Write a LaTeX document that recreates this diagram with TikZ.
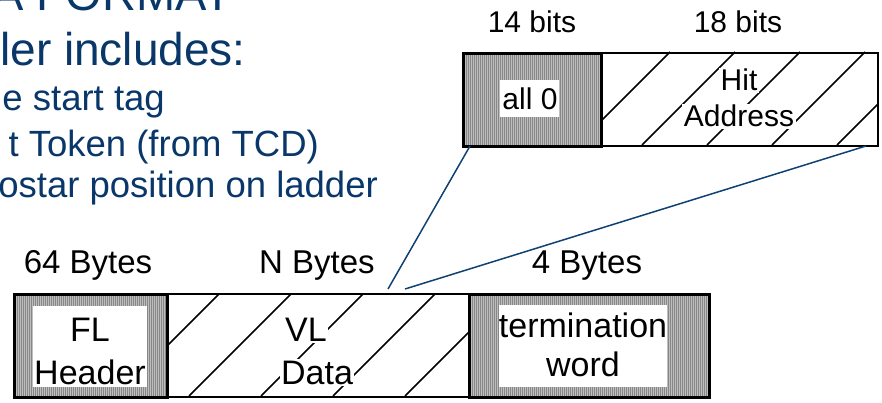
\documentclass[tikz,border=0pt]{standalone}
\usepackage{fontspec}
\setmainfont{Liberation Sans}
\definecolor{navy}{RGB}{10,55,105}
\definecolor{linkblue}{RGB}{15,65,115}
\definecolor{shade}{RGB}{135,135,135}
\definecolor{shadelight}{RGB}{190,190,190}
\begin{document}
\begin{tikzpicture}[x=1pt,y=-1pt,
  heading/.style={text=navy,font=\fontsize{47}{47}\selectfont,inner sep=0pt,anchor=base east},
  bulletline/.style={text=navy,font=\fontsize{36.5}{36.5}\selectfont,inner sep=0pt,anchor=base east},
  toplabel/.style={font=\fontsize{30}{30}\selectfont,inner sep=0pt,anchor=base},
  botlabel/.style={font=\fontsize{33}{33}\selectfont,inner sep=0pt,anchor=base},
  toptext/.style={font=\fontsize{30}{30}\selectfont,fill=white,inner sep=1.5pt,anchor=base},
  bottext/.style={font=\fontsize{34}{34}\selectfont,fill=white,inner sep=1.5pt,anchor=base},
  shadedbox/.style={draw=black,line width=3pt,fill=shade,anchor=north west,inner sep=0pt,
    path picture={\foreach \i in {0,2,...,260}{\draw[shadelight,line width=0.8pt]
      ([xshift=\i pt]path picture bounding box.south west) -- ([xshift=\i pt]path picture bounding box.north west);}}},
  whitebox/.style={fill=white,draw=none,anchor=north west,inner sep=0pt},
  hatchbox/.style={draw=black,line width=1.8pt,anchor=north west,inner sep=0pt},
  hatchline/.style={line width=1.6pt,line cap=butt},
  link/.style={draw=linkblue,line width=1.5pt}]
\useasboundingbox (0,0) rectangle (882,403);
\clip (0,0) rectangle (882,403);

% ---- left text ----
\node[heading] (title) at (232,11) {A FORMAT};
\node[heading,font=\fontsize{46}{46}\selectfont] (head) at (246,66) {ler includes:};
\node[bulletline] (b1) at (165,111) {e start tag};
\node[bulletline] (b2) at (319,157) {t Token (from TCD)};
\node[bulletline] (b3) at (378,197) {ostar position on ladder};

% ---- top word (32 bits) ----
\node[toplabel] (l14) at (532,33) {14 bits};
\node[toplabel] (l18) at (738,33) {18 bits};

\begin{scope}
  \clip (600,52) rectangle (877,145);
  \foreach \t in {670,735,800,865,930}{\draw[hatchline] (\t,52) -- (\t-93,145);}
\end{scope}
\node[hatchbox,minimum width=277pt,minimum height=93pt] (hitaddr) at (600,52) {};
\node[shadedbox,minimum width=138pt,minimum height=93pt] (allzero) at (462,52) {};
\node[whitebox,minimum width=59pt,minimum height=37pt] (allzeroin) at (500,80) {};
\node[toptext,fill=none] (allzerotxt) at (530,110) {all 0};
\node[toptext] (hit) at (739,91) {Hit};
\node[toptext] (addr) at (739,127) {Address};

% ---- bottom frame ----
\node[botlabel] (l64) at (88,273) {64 Bytes};
\node[botlabel] (lN) at (317,273) {N Bytes};
\node[botlabel] (l4) at (587,273) {4 Bytes};

\begin{scope}
  \clip (166,293) rectangle (468,396);
  \foreach \t in {220,292,364,436,508}{\draw[hatchline] (\t,293) -- (\t-103,396);}
\end{scope}
\node[hatchbox,minimum width=302pt,minimum height=103pt] (vldata) at (166,293) {};
\node[shadedbox,minimum width=153pt,minimum height=103pt] (flhead) at (13,293) {};
\node[whitebox,minimum width=114pt,minimum height=81pt] (flheadin) at (33,306) {};
\node[shadedbox,minimum width=240pt,minimum height=103pt] (term) at (468,293) {};
\node[whitebox,minimum width=168pt,minimum height=82pt] (termin) at (499,305) {};

\node[bottext,fill=none] (fl) at (90,341) {FL};
\node[bottext,fill=none] (header) at (90,384) {Header};
\node[bottext] (vl) at (306,341) {VL};
\node[bottext] (data) at (317,384) {Data};
\node[bottext,fill=none] (termination) at (583,337) {termination};
\node[bottext,fill=none] (word) at (583,376) {word};

% ---- zoom connectors ----
\coordinate (zoomL) at (470,146);
\coordinate (zoomR) at (866,146);
\coordinate (frameL) at (388,289);
\coordinate (frameR) at (405,289);
\draw[link] (zoomL) -- (frameL);
\draw[link] (zoomR) -- (frameR);
\end{tikzpicture}
\end{document}
